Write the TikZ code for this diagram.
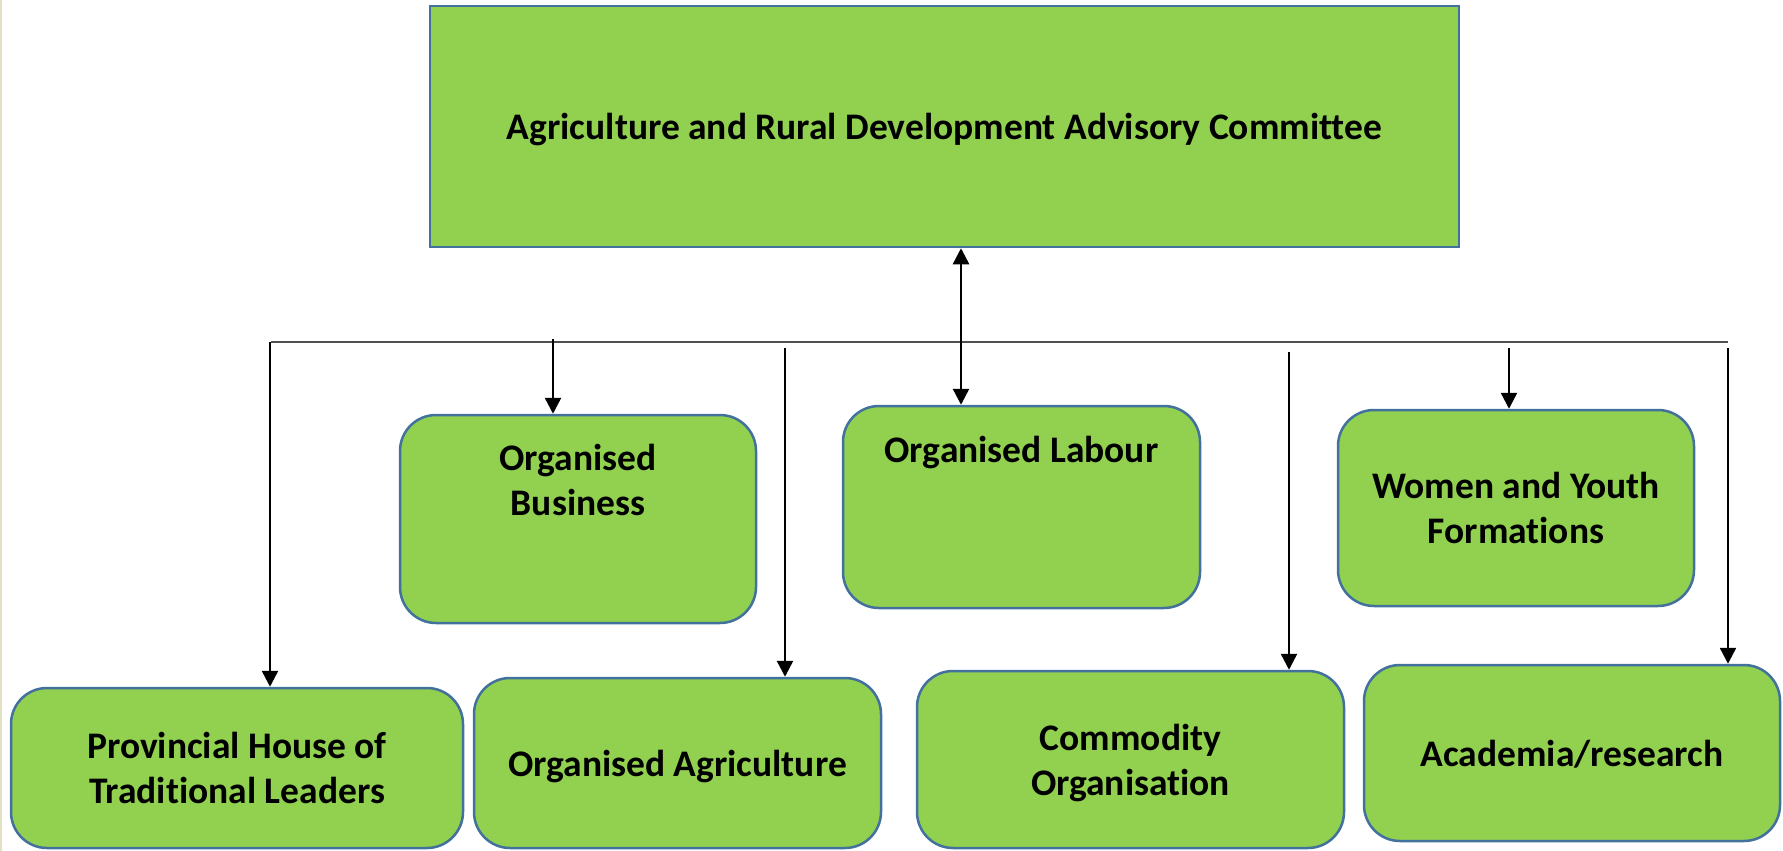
\documentclass[tikz,border=0pt]{standalone}
\usepackage{fontspec}
\setmainfont{Carlito}[Ligatures=NoCommon]
\usetikzlibrary{arrows.meta,calc}

\definecolor{boxgreen}{HTML}{92D050}
\definecolor{boxblue}{HTML}{41719C}
\definecolor{barline}{HTML}{505050}
\definecolor{pageedge}{HTML}{E4E0C4}

\tikzset{
  box/.style={draw=boxblue, fill=boxgreen, line width=2.5pt, inner sep=0pt,
    align=center, text depth=0pt, font=\bfseries\fontsize{37.5}{45}\selectfont},
  orgbox/.style={box, rounded corners=36pt},
  txt/.style={align=center, font=\bfseries\fontsize{37.5}{45}\selectfont},
  arr/.style={-{Triangle[length=16pt,width=16pt]}, line width=2.5pt, black}
}

\begin{document}
\begin{tikzpicture}[x=1pt, y=-1pt]
  \useasboundingbox (0,0) rectangle (1783,851);
  \draw[pageedge, line width=2pt] (1,0) -- (1,851);

      % Define boxes
      \node[box, minimum width=1029pt, minimum height=241pt] (top) at (944.5,126.5)
        {Agriculture and Rural Development Advisory Committee};
      \node[orgbox, minimum width=356pt, minimum height=208pt] (bus) at (578,519) {};
      \node[txt] (busT) at ($(bus.center)+(0,-39)$) {Organised\\Business};
      \node[orgbox, minimum width=357pt, minimum height=202pt] (lab) at (1021.5,507) {};
      \node[txt] (labT) at ($(lab.center)+(0,-54)$) {Organised Labour};
      \node[orgbox, minimum width=356pt, minimum height=196pt] (wom) at (1516,508)
        {Women and Youth\\Formations};
      \node[orgbox, minimum width=452pt, minimum height=160pt] (prov) at (237,768)
        {Provincial House of\\Traditional Leaders};
      \node[orgbox, minimum width=407pt, minimum height=170pt] (agr) at (677.5,763)
        {Organised Agriculture};
      \node[orgbox, minimum width=427pt, minimum height=177pt] (com) at (1130.5,759.5)
        {Commodity\\Organisation};
      \node[orgbox, minimum width=416pt, minimum height=176pt] (aca) at (1572,753)
        {Academia/research};

      % Define connectors
      \coordinate (barL) at (271,342);
      \coordinate (barR) at (1728,342);
      \draw[barline, line width=1.6pt] (barL) -- (barR);
      \coordinate (m) at (961,0);
      \draw[arr, {Triangle[length=16pt,width=16pt]}-{Triangle[length=16pt,width=16pt]}]
        (m |- top.south) -- (m |- lab.north);
      \coordinate (a1) at (270,342);
      \coordinate (a2) at (553,339);
      \coordinate (a3) at (785,348);
      \coordinate (a4) at (1289,352);
      \coordinate (a5) at (1509,348);
      \coordinate (a6) at (1728,348);
      \draw[arr] (a1) -- (a1 |- prov.north);
      \draw[arr] (a2) -- (a2 |- bus.north);
      \draw[arr] (a3) -- (a3 |- agr.north);
      \draw[arr] (a4) -- (a4 |- com.north);
      \draw[arr] (a5) -- (a5 |- wom.north);
      \draw[arr] (a6) -- (a6 |- aca.north);

\end{tikzpicture}
\end{document}
